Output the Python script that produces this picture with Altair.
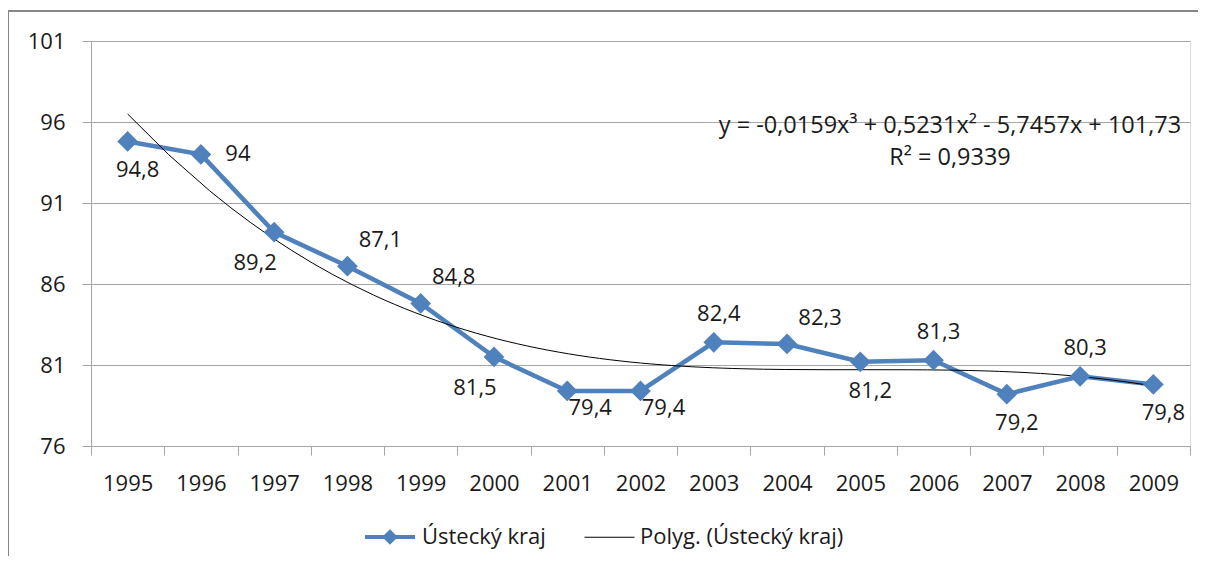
import altair as alt
import pandas as pd

# ---- data ----
years = [1995, 1996, 1997, 1998, 1999, 2000, 2001, 2002, 2003, 2004, 2005, 2006, 2007, 2008, 2009]
values = [94.8, 94.0, 89.2, 87.1, 84.8, 81.5, 79.4, 79.4, 82.4, 82.3, 81.2, 81.3, 79.2, 80.3, 79.8]
series_names = ["Ústecký kraj", "Polyg. (Ústecký kraj)"]
equation_text = ["y = -0,0159x³ + 0,5231x² - 5,7457x + 101,73", "R² = 0,9339"]
y_ticks = [76, 81, 86, 91, 96, 101]
# where each data label sits relative to its point (style only)
placement = ["below", "right", "belowleft", "aboveright", "aboveright", "belowleft",
             "belowright", "belowright", "above", "aboveright", "below", "above",
             "below", "above", "below"]

offsets = {
    "below": (10, 29),
    "right": (37, 0),
    "belowleft": (-19, 31),
    "aboveright": (33, -26),
    "belowright": (23, 17),
    "above": (5, -28),
}

df = pd.DataFrame({
    "year": years,
    "value": values,
    "label": [f"{v:g}".replace(".", ",") for v in values],
    "place": placement,
})
df["t"] = df["year"] - (years[0] - 1)

BLUE = "#4F81BD"
GRID = "#A6A6A6"
FONT = "Open Sans"
W, H = 1099, 405

xscale = alt.Scale(domain=[0.5, len(years) + 0.5], nice=False, zero=False)
yscale = alt.Scale(domain=[76, 101], nice=False, zero=False)

x_axis = alt.Axis(
    values=[i + 0.5 for i in range(len(years) + 1)],
    labelExpr=f"datum.value < {len(years)} ? toString(datum.value + {years[0] - 0.5}) : ''",
    labelOffset=W / len(years) / 2,
    grid=False, title=None, tickSize=9, tickColor=GRID, domainColor=GRID,
    labelFont=FONT, labelFontSize=22, labelColor="#1a1a1a", labelPadding=18,
    labelFlush=False, labelOverlap=False,
)
y_axis = alt.Axis(
    values=y_ticks, grid=True, gridColor=GRID, title=None, tickSize=9,
    tickColor=GRID, domainColor=GRID, labelFont=FONT, labelFontSize=22,
    labelColor="#1a1a1a", labelPadding=17,
)

base = alt.Chart(df)

border = base.mark_rect(fill=None, stroke="#868686", strokeWidth=2).encode(
    x=alt.value(-83), x2=alt.value(W + 60), y=alt.value(-30), y2=alt.value(H + 160)
).transform_filter("datum.t == 1")

line = base.mark_line(color=BLUE, strokeWidth=4.5).encode(
    x=alt.X("t:Q", scale=xscale, axis=x_axis),
    y=alt.Y("value:Q", scale=yscale, axis=y_axis),
)

trend = base.transform_regression("t", "value", method="poly", order=3).mark_line(
    color="black", strokeWidth=1
).encode(x=alt.X("t:Q", scale=xscale), y=alt.Y("value:Q", scale=yscale))

points = base.mark_point(shape="diamond", filled=True, color=BLUE, size=430, opacity=1).encode(
    x=alt.X("t:Q", scale=xscale), y=alt.Y("value:Q", scale=yscale)
)

label_layers = []
for name, (dx, dy) in offsets.items():
    label_layers.append(
        base.transform_filter(alt.datum.place == name).mark_text(
            font=FONT, fontSize=22, color="#1a1a1a", dx=dx, dy=dy,
            align="center", baseline="middle",
        ).encode(x=alt.X("t:Q", scale=xscale), y=alt.Y("value:Q", scale=yscale), text="label:N")
    )

equation = alt.Chart(pd.DataFrame({"eq": ["\n".join(equation_text)]})).mark_text(
    font=FONT, fontSize=23.5, color="#1a1a1a", align="center", baseline="middle",
    lineBreak="\n", lineHeight=32,
).encode(x=alt.value(859), y=alt.value(85), text="eq:N")

legend_paths = ["M-1,0L1,0M-0.2,0L0,-0.2L0.2,0L0,0.2Z", "M-1,0L1,0"]
legend_layer = base.transform_calculate(series="'" + series_names[0] + "'").transform_filter(
    "false"
).mark_point(filled=True, opacity=1).encode(
    fill=alt.Fill("series:N", scale=alt.Scale(domain=series_names, range=[BLUE, "black"]),
                  legend=alt.Legend(title=None, orient="none", legendX=272, legendY=469,
                                    direction="horizontal", symbolSize=2500,
                                    labelFont=FONT, labelFontSize=22, labelColor="#1a1a1a",
                                    columnPadding=36, labelOffset=5, labelLimit=500,
                                    symbolOpacity=1)),
    stroke=alt.Stroke("series:N", scale=alt.Scale(domain=series_names, range=[BLUE, "black"])),
    shape=alt.Shape("series:N", scale=alt.Scale(domain=series_names, range=legend_paths)),
    strokeWidth=alt.StrokeWidth("series:N", scale=alt.Scale(domain=series_names, range=[4, 1])),
)

chart = alt.layer(
    border, line, trend, points, *label_layers, equation, legend_layer
).properties(
    width=W, height=H,
    autosize=alt.AutoSizeParams(type="none"),
    padding={"left": 83, "top": 33, "right": 8, "bottom": 110},
).configure_view(stroke=None).configure(background="white")

chart.save("out.html", embed_options={"renderer": "svg", "actions": False})
